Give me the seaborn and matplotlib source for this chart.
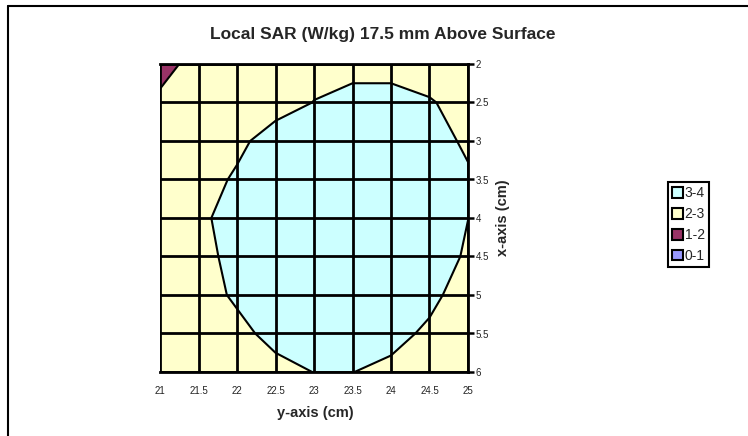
import numpy as np
import matplotlib
matplotlib.use("Agg")
import matplotlib.pyplot as plt
from matplotlib.patches import Patch
from matplotlib.lines import Line2D
import seaborn as sns

sns.set_style("white")
plt.rcParams["font.family"] = ["Liberation Sans", "DejaVu Sans"]

# grid positions (cm)
y_pos = [21, 21.5, 22, 22.5, 23, 23.5, 24, 24.5, 25]
x_pos = [2, 2.5, 3, 3.5, 4, 4.5, 5, 5.5, 6]

# local SAR (W/kg), one row per x position
sar_x20 = [1.80, 2.20, 2.40, 2.55, 2.85, 2.85, 2.85, 2.69, 2.60]
sar_x25 = [2.11, 2.40, 2.60, 2.80, 3.01, 3.15, 3.15, 3.05, 2.77]
sar_x30 = [2.40, 2.60, 2.886, 3.22, 3.35, 3.42, 3.42, 3.30, 2.88]
sar_x35 = [2.55, 2.78, 3.07, 3.35, 3.50, 3.55, 3.55, 3.40, 3.10]
sar_x40 = [2.60, 2.90, 3.20, 3.40, 3.55, 3.60, 3.55, 3.35, 3.005]
sar_x45 = [2.55, 2.84, 3.15, 3.35, 3.50, 3.55, 3.45, 3.30, 2.925]
sar_x50 = [2.50, 2.86, 3.05, 3.25, 3.40, 3.45, 3.35, 3.10, 2.81]
sar_x55 = [2.45, 2.70, 2.91, 3.10, 3.25, 3.25, 3.12, 2.93, 2.70]
sar_x60 = [2.35, 2.55, 2.75, 2.90, 3.005, 3.005, 2.91, 2.80, 2.60]

levels = [0, 1, 2, 3, 4]
band_labels = ["0-1", "1-2", "2-3", "3-4"]
band_colors = ["#9999FF", "#993366", "#FFFFCC", "#CCFFFF"]

sar = np.array([sar_x20, sar_x25, sar_x30, sar_x35, sar_x40,
                sar_x45, sar_x50, sar_x55, sar_x60])

fig = plt.figure(figsize=(7.48, 4.36), dpi=100)
ax = fig.add_axes([160 / 748, 1 - 372 / 436, 308 / 748, 308 / 436])

ax.contourf(y_pos, x_pos, sar, levels=levels, colors=band_colors)
ax.contour(y_pos, x_pos, sar, levels=[1, 2, 3], colors="black",
           linewidths=1.5)

ax.set_xlim(21, 25)
ax.set_ylim(6, 2)
ax.set_xticks(y_pos)
ax.set_xticklabels([f"{v:g}" for v in y_pos])
ax.set_yticks(x_pos)
ax.set_yticklabels([f"{v:g}" for v in x_pos])
ax.yaxis.tick_right()
ax.tick_params(axis="both", labelsize=7, colors="black", labelcolor="#222222",
               length=4, width=1.8, pad=1.5)
ax.tick_params(axis="x", pad=6)
ax.grid(True, color="black", linewidth=2)
ax.set_axisbelow(False)
for side in ["top", "bottom", "right"]:
    ax.spines[side].set_color("black")
    ax.spines[side].set_linewidth(2)
ax.spines["left"].set_visible(False)

fig.text(383 / 748, 1 - 35 / 436, "Local SAR (W/kg) 17.5 mm Above Surface",
         ha="center", va="center", fontsize=12.5, fontweight="bold")
fig.text(315 / 748, 1 - 413 / 436, "y-axis (cm)", ha="center", va="center",
         fontsize=10.5, fontweight="bold")
fig.text(503 / 748, 1 - 218 / 436, "x-axis (cm)", ha="center", va="center",
         rotation=90, fontsize=10.5, fontweight="bold")

handles = [Patch(facecolor=c, edgecolor="black", linewidth=1.5, label=l)
           for c, l in zip(band_colors[::-1], band_labels[::-1])]
leg = fig.legend(handles=handles, loc="upper left",
                 bbox_to_anchor=(668 / 748, 1 - 182 / 436), fontsize=10,
                 handlelength=0.8, handleheight=0.8, handletextpad=0.1,
                 borderpad=0.3, labelspacing=0.5, borderaxespad=0,
                 fancybox=False, framealpha=1)
leg.get_frame().set_edgecolor("black")
leg.get_frame().set_linewidth(1.5)

# outer chart frame (extends past the right and bottom edges)
fig.add_artist(Line2D([8 / 748, 1.0], [1 - 6 / 436] * 2, color="black",
                      linewidth=1.5))
fig.add_artist(Line2D([8 / 748] * 2, [0.0, 1 - 6 / 436], color="black",
                      linewidth=1.5))

fig.savefig("out.png", dpi=100)
